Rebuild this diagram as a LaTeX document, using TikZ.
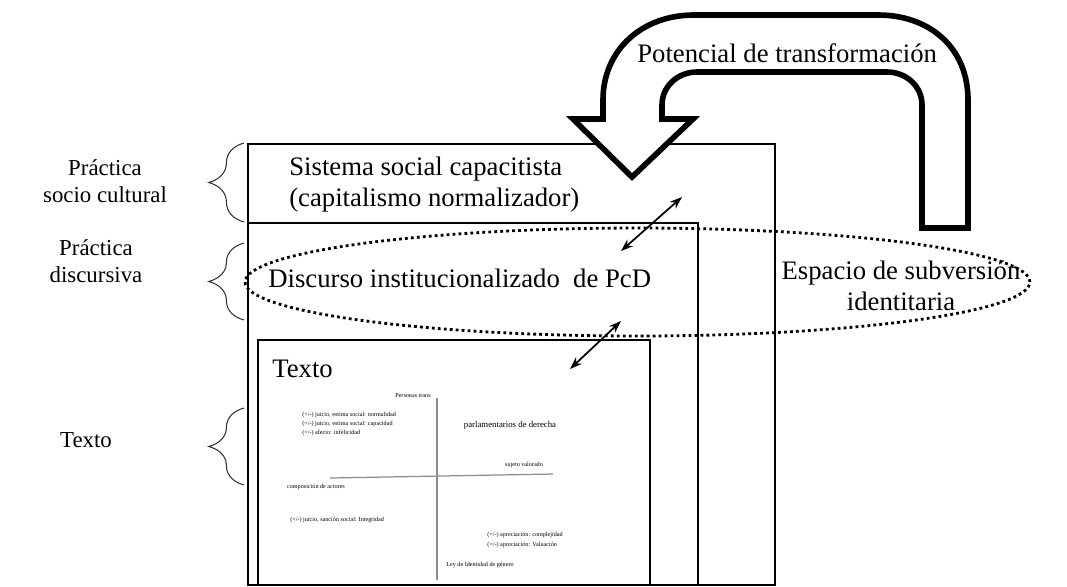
\documentclass[tikz,border=0pt]{standalone}
\usepackage{fontspec}
\setmainfont{Liberation Serif}
\usetikzlibrary{decorations.pathreplacing}
\usetikzlibrary{arrows.meta}

\begin{document}
\begin{tikzpicture}[x=0.02cm,y=-0.02cm,line join=miter]
	\tikzstyle{layer box}=[draw=black,line width=0.8pt]
	\tikzstyle{big label}=[font=\fontsize{15.2}{17.5}\selectfont,inner sep=0pt]
	\tikzstyle{side label}=[font=\fontsize{13}{15.5}\selectfont,align=center,inner sep=0pt]
	\tikzstyle{axis text}=[font=\fontsize{3.5}{4.2}\selectfont,inner sep=0pt]
	\tikzstyle{axis line}=[draw=black!45,line width=0.7pt]
	\tikzstyle{link}=[{Stealth[length=7pt,width=5pt]}-{Stealth[length=7pt,width=5pt]},line width=1pt]
	\tikzstyle{layer brace}=[decorate,decoration={brace,amplitude=20pt},draw=black!80,line width=0.6pt]
	\tikzstyle{subversion}=[draw,line width=1.6pt,dash pattern=on 1.6pt off 1.8pt]
	\tikzstyle{block arrow}=[draw,line width=3.2pt,fill=white]

	\useasboundingbox (0,0) rectangle (1067,586);
	\clip (0,0) rectangle (1067,586);

	% Draw the three layers
	\draw[layer box] (248,144) rectangle (775,585);
	\draw[layer box] (248,223) rectangle (698,585);
	\draw[layer box,fill=white] (258,340) rectangle (650,585);

	% Layer texts
	\node[big label,anchor=north west,align=left] (sistema) at (289,157)
	{Sistema social capacitista\\(capitalismo normalizador)};
	\node[big label,anchor=base west] (discurso) at (268,287) {Discurso institucionalizado~ de PcD};
	\node[big label,anchor=base west] (texto) at (272,377) {Texto};

	% Annotate the layers
	\node[side label] (l-sc) at (105,181) {Práctica\\socio cultural};
	\node[side label] (l-pd) at (96,261) {Práctica\\discursiva};
	\node[side label] (l-tx) at (86,440) {Texto};
	\foreach \name / \top / \bot in {sc/143/222, pd/243/320, tx/408/485}
	\draw[layer brace] (244,\bot) -- (244,\top);

	% Axes inside the text box
	\draw[axis line] (437,398) -- (437,580);
	\draw[axis line] (330,478) -- (553,474);
	\node[axis text] (top) at (413,396) {Personas trans};
	\foreach \name / \y / \t in {1/415/{(+/-) juicio, estima social: normalidad},
		2/424/{(+/-) juicio, estima social: capacidad},
		3/433/{(+/-) afecto: infelicidad}}
	\node[axis text,anchor=west] (j-\name) at (302,\y) {\t};
	\node[axis text,font=\fontsize{5}{6}\selectfont] (parl) at (510,425) {parlamentarios de derecha};
	\node[axis text] (right) at (524,465) {sujeto valorado};
	\node[axis text] (left) at (316,487) {composición de actores};
	\node[axis text,anchor=west] (s-1) at (290,520) {(+/-) juicio, sanción social: Integridad};
	\node[axis text,anchor=west] (a-1) at (487,535) {(+/-) apreciación: complejidad};
	\node[axis text,anchor=west] (a-2) at (487,545) {(+/-) apreciación: Valuación};
	\node[axis text] (bottom) at (480,565) {Ley de Identidad de género};

	% Space of subversion
	\draw[subversion] (637.5,282) ellipse [x radius=7.85cm, y radius=1.08cm];
	\node[big label,align=center,anchor=north] (espacio) at (901,261)
	{Espacio de subversión\\identitaria};

	% Connect the layers
	\coordinate (s1) at (621,251);
	\coordinate (d1) at (682,197);
	\draw[link] (s1) -- (d1);
	\coordinate (s2) at (570,369);
	\coordinate (d2) at (621,321);
	\draw[link] (s2) -- (d2);

	% Potential of transformation
	\draw[block arrow] (968,228) -- (968,100) .. controls (968,48) and (930,15) .. (878,15)
	-- (694,15) .. controls (642,15) and (603,50) .. (603,100) -- (603,119) -- (573,119)
	-- (632,177) -- (693,119) -- (662,119) -- (662,105) .. controls (662,86) and (678,72) .. (697,72)
	-- (887,72) .. controls (906,72) and (922,86) .. (922,105) -- (922,228) -- cycle;
	\node[big label,anchor=base west] (potencial) at (637,62) {Potencial de transformación};

\end{tikzpicture}
\end{document}
